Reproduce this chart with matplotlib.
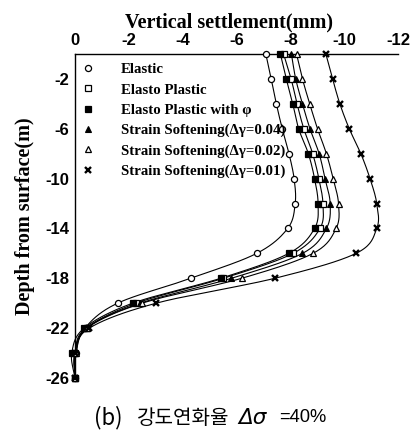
import numpy as np
import matplotlib
matplotlib.use("Agg")
import matplotlib.pyplot as plt
from matplotlib.lines import Line2D
from matplotlib import font_manager

depth = [0, -2, -4, -6, -8, -10, -12, -14, -16, -18, -20, -22, -24, -26]

elastic = [-7.09, -7.29, -7.48, -7.70, -7.95, -8.14, -8.18, -7.90, -6.75, -4.30, -1.58, -0.37, -0.04, 0.0]
elasto_plastic = [-7.75, -8.03, -8.25, -8.50, -8.83, -9.06, -9.21, -9.10, -8.10, -5.51, -2.27, -0.43, 0.0, 0.0]
elasto_plastic_phi = [-7.63, -7.85, -8.09, -8.31, -8.67, -8.90, -9.03, -8.90, -7.94, -5.41, -2.14, -0.34, 0.12, 0.0]
ss_004 = [-8.04, -8.20, -8.45, -8.73, -9.07, -9.29, -9.48, -9.34, -8.45, -5.81, -2.42, -0.40, 0.0, 0.0]
ss_002 = [-8.23, -8.45, -8.72, -9.01, -9.34, -9.59, -9.79, -9.70, -8.84, -6.19, -2.49, -0.45, -0.04, 0.0]
ss_001 = [-9.32, -9.57, -9.84, -10.19, -10.62, -10.96, -11.21, -11.21, -10.44, -7.42, -3.01, -0.53, 0.0, 0.0]

labels = ["Elastic", "Elasto Plastic", "Elasto Plastic with \u03c6",
          "Strain Softening(\u0394\u03b3=0.04)", "Strain Softening(\u0394\u03b3=0.02)",
          "Strain Softening(\u0394\u03b3=0.01)"]
x_ticks = [0, -2, -4, -6, -8, -10, -12]
y_ticks = [-2, -6, -10, -14, -18, -22, -26]

series = [elastic, elasto_plastic, elasto_plastic_phi, ss_004, ss_002, ss_001]
styles = [
    dict(marker="o", mfc="white", ms=4.4, mew=0.9),
    dict(marker="s", mfc="white", ms=4.4, mew=0.9),
    dict(marker="s", mfc="black", ms=4.4, mew=0.9),
    dict(marker="^", mfc="black", ms=4.0, mew=0.8),
    dict(marker="^", mfc="white", ms=4.4, mew=0.9),
    dict(marker="x", mfc="black", ms=4.2, mew=1.7),
]


def catmull_rom(xs, ys, n=20):
    P = np.column_stack([xs, ys]).astype(float)
    P = np.vstack([2 * P[0] - P[1], P, 2 * P[-1] - P[-2]])
    out = []
    for i in range(1, len(P) - 2):
        p0, p1, p2, p3 = P[i - 1], P[i], P[i + 1], P[i + 2]
        t = np.linspace(0, 1, n, endpoint=False)[:, None]
        seg = 0.5 * ((2 * p1) + (-p0 + p2) * t + (2 * p0 - 5 * p1 + 4 * p2 - p3) * t ** 2
                     + (-p0 + 3 * p1 - 3 * p2 + p3) * t ** 3)
        out.append(seg)
    out.append(P[-2][None, :])
    out = np.vstack(out)
    return out[:, 0], out[:, 1]


fig = plt.figure(figsize=(4.14, 4.33), dpi=100)
ax = fig.add_axes([75 / 414, 1 - 378 / 433, (398 - 75) / 414, (378 - 54) / 433])

handles = []
for vals, st in zip(series, styles):
    sx, sy = catmull_rom(vals, depth)
    ax.plot(sx, sy, color="black", lw=0.8, clip_on=False, zorder=2)
    ax.plot(vals, depth, ls="none", color="black", mec="black", clip_on=False, zorder=3, **st)
    handles.append(Line2D([], [], ls="none", color="black", mec="black", **st))

ax.set_xlim(0, -12)
ax.set_ylim(-26, 0)
ax.xaxis.tick_top()
ax.xaxis.set_label_position("top")
ax.set_xticks(x_ticks)
ax.set_yticks(y_ticks)
ax.set_xticklabels([str(v) for v in x_ticks])
ax.set_yticklabels([str(v) for v in y_ticks])
ax.tick_params(length=0, pad=4)
for lab in ax.get_xticklabels() + ax.get_yticklabels():
    lab.set_fontfamily("Liberation Sans")
    lab.set_fontweight("bold")
    lab.set_fontsize(12)
for s in ["right", "bottom"]:
    ax.spines[s].set_visible(False)
for s in ["left", "top"]:
    ax.spines[s].set_linewidth(1.0)

ax.set_xlabel("Vertical settlement(mm)", fontfamily="Liberation Serif", fontweight="bold", fontsize=14.5)
ax.xaxis.set_label_coords((229 - 75) / (398 - 75), 1 + (54 - 22) / (378 - 54))
ax.set_ylabel("Depth from surface(m)", fontfamily="Liberation Serif", fontweight="bold", fontsize=14.5)
ax.yaxis.set_label_coords((25 - 75) / (398 - 75), 0.5)
ax.xaxis.label.set_va("center")
ax.yaxis.label.set_va("center")

leg = ax.legend(handles, labels, loc="upper left", bbox_to_anchor=(0.0, 1.0), frameon=False,
                prop=dict(family="Liberation Serif", weight="bold", size=10.7),
                labelspacing=0.46, handlelength=0.6, handletextpad=1.9, borderaxespad=0.2,
                borderpad=0.4)

# caption
try:
    font_manager.findfont("Liberation Sans Narrow", fallback_to_default=False)
    narrow, nsize = "Liberation Sans Narrow", 14.5
except Exception:
    narrow, nsize = "Liberation Sans", 13.2

fam = ["Noto Sans CJK KR", "DejaVu Sans"]
yc = 1 - 418 / 433
fig.text(94 / 414, yc, "(b)", fontsize=16, family=fam, va="center", ha="left")
fig.text(137 / 414, yc, "강도연화율", fontsize=14.5, family=fam, va="center", ha="left")
fig.text(238 / 414, yc, "\u0394\u03c3", fontsize=15.5, family="DejaVu Sans",
         style="italic", va="center", ha="left")
fig.text(279 / 414, yc, "=40%", fontsize=nsize, family=[narrow, "DejaVu Sans"], va="center", ha="left")

fig.savefig("out.png", dpi=100)
